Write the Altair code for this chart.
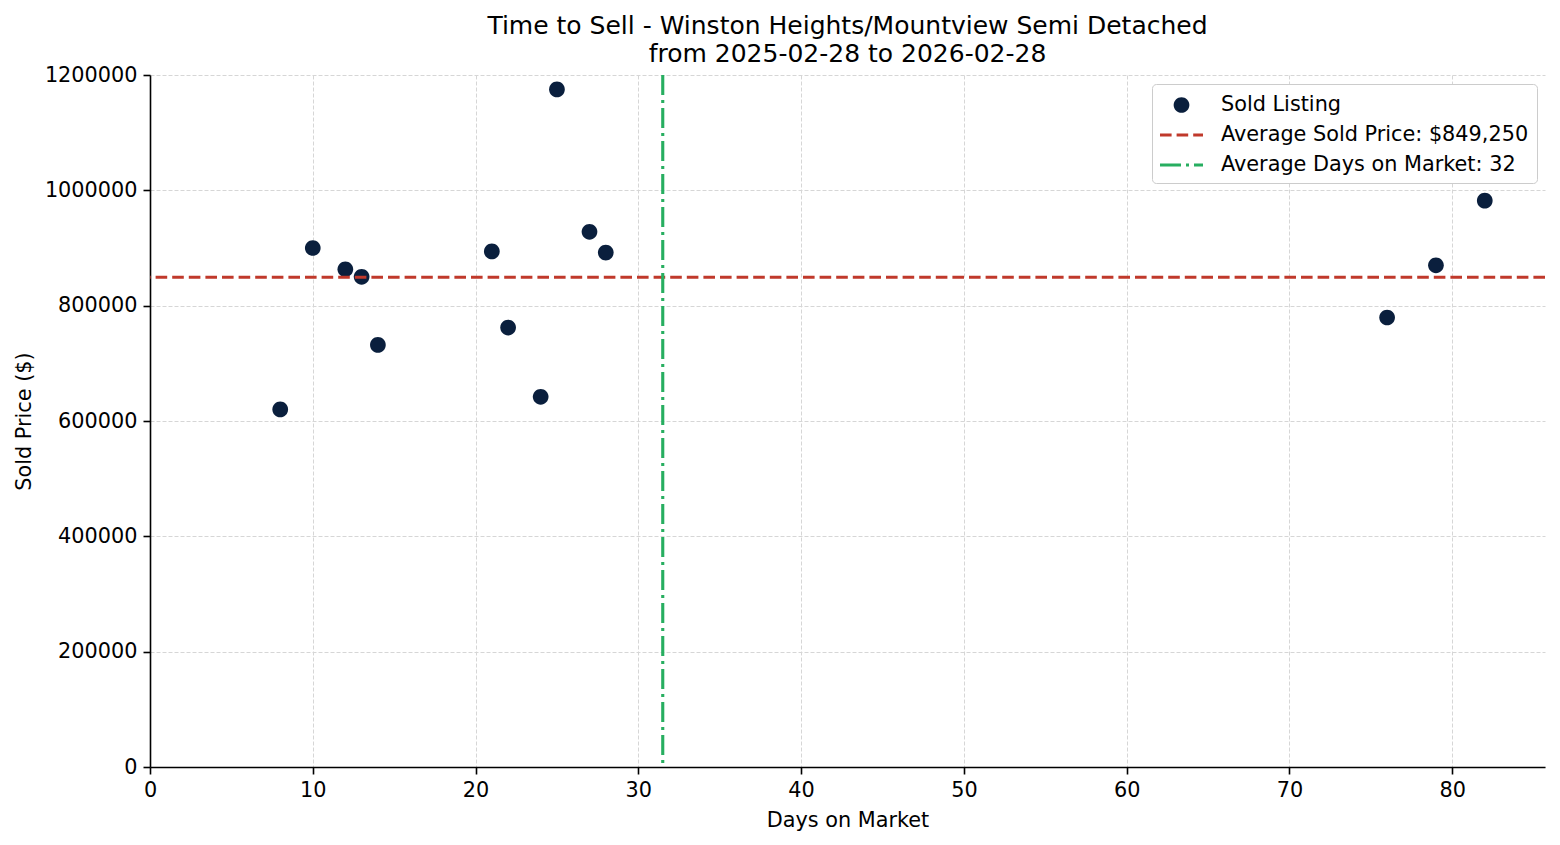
import altair as alt
import pandas as pd

# ---- data ----
days_on_market = [8, 10, 12, 13, 14, 21, 22, 24, 25, 27, 28, 76, 79, 82]
sold_prices = [620000, 900000, 863000, 850000, 732000, 894000, 762000, 642000,
               1175000, 928000, 892000, 779500, 870000, 982000]

x_ticks = [0, 10, 20, 30, 40, 50, 60, 70, 80]
y_ticks = [0, 200000, 400000, 600000, 800000, 1000000, 1200000]

avg_price = sum(sold_prices) / len(sold_prices)
avg_days = sum(days_on_market) / len(days_on_market)

lbl_points = "Sold Listing"
lbl_price = f"Average Sold Price: ${avg_price:,.0f}"
lbl_days = f"Average Days on Market: {round(avg_days)}"

df = pd.DataFrame({"days": days_on_market, "price": sold_prices, "label": lbl_points})

NAVY = "#0a1f3d"
RED = "#c0392b"
GREEN = "#27ae60"
FONT = "DejaVu Sans"

# legend symbol shapes (unit paths)
circle_path = "M0.604,0A0.604,0.604 0 1,1 -0.604,0A0.604,0.604 0 1,1 0.604,0Z"
h = 0.119
def bar(a, b):
    return f"M{a},{-h}L{b},{-h}L{b},{h}L{a},{h}Z"
dash_path = bar(-1.654, -0.762) + bar(-0.377, 0.515) + bar(0.900, 1.654)
dashdot_path = bar(-1.654, -0.038) + bar(0.346, 0.577) + bar(0.962, 1.654)

legend = alt.Legend(
    title=None, orient="none", legendX=1002, legendY=9, padding=8,
    strokeColor="#cccccc", cornerRadius=4, fillColor="white",
    labelFont=FONT, labelFontSize=20.8, labelColor="black",
    symbolSize=676, symbolStrokeWidth=0, rowPadding=7,
    symbolOffset=8.5, labelOffset=26.5, labelLimit=600,
)

dom = [lbl_points, lbl_price, lbl_days]

x_enc = alt.X("days:Q", title="Days on Market",
              scale=alt.Scale(domain=[0, 85.7], nice=False, zero=False),
              axis=alt.Axis(values=x_ticks, format="d", titleX=697.5, titleY=59,
                            titleBaseline="alphabetic"))
y_enc = alt.Y("price:Q", title="Sold Price ($)",
              scale=alt.Scale(domain=[0, 1200000], nice=False),
              axis=alt.Axis(values=y_ticks, format="d", titleX=-120, titleY=346,
                            titleBaseline="alphabetic", titleAngle=-90))

points = alt.Chart(df).mark_point(filled=True, size=676, opacity=1).encode(
    x=x_enc,
    y=y_enc,
    color=alt.Color("label:N", scale=alt.Scale(domain=dom, range=[NAVY, RED, GREEN]), legend=legend),
    shape=alt.Shape("label:N", scale=alt.Scale(domain=dom, range=[circle_path, dash_path, dashdot_path]), legend=legend),
)

hline = alt.Chart(df).mark_rule(color=RED, strokeWidth=3.1, strokeDash=[11.6, 5]).encode(
    y=alt.Y("mean(price):Q")
)
vline = alt.Chart(df).mark_rule(color=GREEN, strokeWidth=3.1, strokeDash=[20, 5, 3, 5]).encode(
    x=alt.X("mean(days):Q")
)

chart = alt.layer(points, hline, vline).properties(
    width=1395, height=692,
    background="white",
    title=alt.TitleParams(
        text=["Time to Sell - Winston Heights/Mountview Semi Detached",
              "from 2025-02-28 to 2026-02-28"],
        font=FONT, fontSize=25, fontWeight="normal", color="black",
        lineHeight=28, anchor="middle", offset=3, dy=6,
    ),
    autosize=alt.AutoSizeParams(type="none"),
    padding={"left": 142, "top": 67, "right": 7, "bottom": 70},
).configure_view(stroke=None).configure_axis(
    domainColor="black", domainWidth=1.6,
    tickColor="black", tickWidth=1.6, tickSize=7,
    labelFont=FONT, labelFontSize=20.8, labelColor="black", labelPadding=6,
    labelFlush=False,
    titleFont=FONT, titleFontSize=20.8, titleColor="black", titleFontWeight="normal",
    grid=True, gridColor="#d6d6d6", gridWidth=1, gridDash=[4, 2],
)

chart.save("out.html", embed_options={"renderer": "svg", "actions": False})
